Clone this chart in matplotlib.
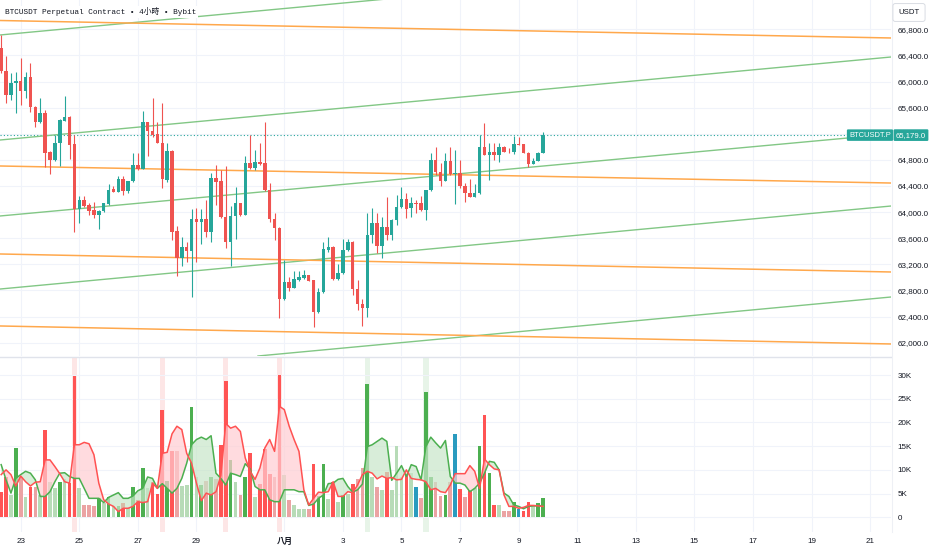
import numpy as np
import matplotlib
matplotlib.use('Agg')
import matplotlib.pyplot as plt
import matplotlib.transforms as mtransforms

# ---------------- data ----------------
# 4h candles, first bar = Jul 22 08:00 (bar -4), bar 0 = Jul 23 00:00
first_bar = -4
opens = [66508,66161,65793,65982,66008,65860,66074,65604,65385,65522,
         64920,64797,65053,65400,65461,65037,64046,64184,64108,64031,
         63955,64016,64123,64348,64312,64506,64322,64470,64726,64660,
         65375,65247,65191,65063,64491,64935,63710,63291,63459,63408,
         63894,63853,63894,63700,64527,64481,63929,63546,63940,64134,
         63955,64746,64670,64767,64746,64338,63890,63761,62668,62933,
         62841,62959,62995,63035,62959,62474,62770,63419,63459,62974,
         63061,63419,63546,62816,62586,62525,63648,63837,63485,63776,
         63648,63878,64082,64195,64057,64134,64134,64032,64338,64798,
         64619,64481,64788,64583,64604,64400,64287,64236,64287,65002,
         64875,64915,64875,64992,64926,64915,65043,65043,64910,64737,
         64788,64910]
closes = [66166,65793,65982,66008,65860,66074,65604,65385,65522,64910,
          64797,65053,65410,65451,65027,64046,64184,64093,64021,63955,
          64021,64133,64338,64312,64506,64322,64470,64726,64654,65375,
          65247,65181,65063,64501,64935,63700,63291,63459,63408,63894,
          63853,63894,63700,64527,64466,63929,63546,63940,64134,63955,
          64746,64670,64767,64736,64338,63890,63761,62668,62933,62841,
          62974,63000,63035,62949,62474,62770,63429,63459,62974,63071,
          63419,63546,62816,62586,62525,63648,63837,63485,63776,63648,
          63878,64082,64195,64042,64134,64119,64032,64338,64798,64619,
          64481,64788,64583,64604,64400,64287,64236,64287,65002,64875,
          64915,64875,64992,64926,64915,65038,65028,64910,64737,64788,
          64910,65179]
highs = [66712,66391,66125,66151,66355,66151,66278,65620,65742,65563,
         64930,65180,65420,65778,65471,65180,64251,64251,64133,64159,
         64030,64140,64424,64404,64552,64557,64470,64910,64900,65553,
         65385,65742,65385,65676,65053,64945,63786,63623,63546,64047,
         64057,64047,64185,64593,64721,64644,64706,64093,64379,64140,
         64859,65181,64951,65063,65375,64440,63980,63770,63265,63010,
         63102,63102,63112,63040,62965,62831,63546,63613,63485,63204,
         63582,63582,63556,62959,62663,63980,64057,63990,63929,64225,
         63890,64261,64379,64290,64226,64185,64251,64338,64910,64992,
         64747,64910,64992,64951,64798,64451,64507,64430,65181,65360,
         65053,65053,65053,65012,64980,65166,65155,65050,64925,64824,
         64925,65232]
lows = [66135,65665,65717,65512,65640,65742,65538,65308,65359,64695,
        64583,64790,64705,65395,64807,63699,63837,64082,63955,63904,
        63745,64006,64108,64302,64305,64261,64297,64460,64644,64655,
        64864,65155,65053,64363,64466,63572,63025,63174,63240,62704,
        63240,63511,63623,63546,64108,63904,63444,63174,63582,63940,
        63950,64660,64644,64726,64318,63853,63572,62382,62650,62795,
        62830,62950,62980,62945,62244,62448,62760,63393,62960,62960,
        63050,63400,62729,62499,62259,62397,63521,63367,63291,63572,
        63572,63801,64057,63904,63930,63981,64020,63879,64330,64568,
        64400,64470,64570,64124,64364,64160,64225,64225,64280,64870,
        64492,64798,64772,64915,64910,64890,65020,64900,64696,64730,
        64780,64900]

# volume in thousands, with bar colour class
volumes = [5.3,8.6,4.7,14.6,8.6,4.2,6.3,6.3,4.6,18.5,
           7.5,6.1,7.5,8.0,7.2,29.8,6.1,2.6,2.6,2.4,
           4.0,3.0,4.2,2.3,2.4,3.1,1.9,6.3,3.7,10.4,
           6.1,7.5,4.9,22.6,7.7,13.9,13.9,6.5,6.8,23.2,
           8.6,6.8,7.7,8.5,8.1,15.2,28.7,12.1,7.5,4.6,
           8.5,13.5,4.2,7.1,14.4,9.1,8.4,30.1,9.0,3.7,
           2.6,1.7,1.8,1.7,11.2,4.4,11.3,3.8,7.5,3.3,
           4.7,5.0,7.0,8.1,10.4,28.2,8.6,6.3,5.8,9.6,
           5.8,15.0,8.6,9.0,9.3,6.4,4.1,26.4,8.6,7.5,
           4.4,4.7,7.5,17.6,6.0,4.2,5.8,6.1,15.0,21.6,
           9.3,2.6,2.5,1.4,1.4,3.2,1.7,1.3,3.3,2.3,
           3.0,4.0]
vol_class = list("RRgGrgRrgR" "ggGgRRgrrr" "GgGgGRgGRG" "gRRRGRrggG"
                 "gGrGrRRGgr" "GRgRRRrRgr" "gggrRGGgRg" "GgRrrGgrgR"
                 "gggRgBrGGr" "rGrBRrRgGR" "GRgrrGBRRg" "GG")
sell_line = [9.0,10.0,9.0,6.6,8.7,7.5,6.6,7.4,7.5,12.1,
             12.1,10.7,9.2,7.5,7.2,15.3,15.3,15.8,15.5,13.2,
             7.2,3.7,2.8,2.3,1.2,1.9,1.9,2.3,3.3,3.1,
             3.3,7.2,6.1,13.5,13.7,17.6,19.2,18.5,13.5,11.4,
             7.2,3.5,5.1,4.7,5.4,8.8,19.8,18.8,19.2,18.1,
             12.5,9.7,8.0,10.4,14.6,16.4,13.9,23.4,22.7,19.2,
             16.4,13.9,5.8,2.6,4.0,5.3,5.2,5.4,7.5,4.4,
             4.4,5.4,5.2,6.8,9.0,9.7,9.3,8.1,8.7,8.2,
             8.4,7.9,8.0,10.0,8.2,8.0,7.9,7.5,5.8,6.1,
             5.4,5.2,6.8,9.2,9.2,9.2,10.9,9.7,6.1,12.3,
             11.1,10.2,10.0,4.7,2.3,2.3,1.9,2.1,2.5,2.5,
             2.4,2.3]
buy_line = [11.1,7.9,5.1,8.2,9.0,9.7,9.3,7.9,4.4,4.4,
            5.4,7.5,9.3,9.4,8.6,8.2,8.2,6.1,4.0,4.0,
            4.0,3.1,4.2,4.7,5.2,4.0,4.0,4.5,5.6,6.1,
            8.5,8.2,6.1,7.1,6.1,5.1,6.1,8.2,11.4,15.3,
            16.4,16.9,16.4,17.2,9.3,8.2,6.8,9.3,9.0,8.6,
            11.3,10.2,6.5,5.8,5.8,3.7,3.3,3.3,5.8,5.8,
            5.8,5.4,5.4,2.5,2.8,4.0,4.7,7.1,7.2,8.0,
            8.2,6.5,5.3,5.8,7.0,14.9,15.3,16.0,16.7,16.0,
            7.8,9.3,10.9,8.6,11.1,10.7,7.9,14.9,16.9,15.7,
            14.6,16.2,8.6,7.2,7.2,6.8,5.4,6.1,7.2,9.3,
            11.8,11.6,10.0,5.1,4.4,2.6,2.3,1.8,2.3,2.4,
            2.4,2.5]
red_spike_bars = [11, 29, 42, 53]
green_spike_bars = [71, 83]

# trend lines: (bar_start, price_start, bar_end, price_end)
green_lines = [(-4.24, 66713, 178.3, 67984),
               (-4.24, 65104, 178.3, 66376),
               (-4.24, 63940, 178.3, 65196),
               (-4.24, 62821, 178.3, 64093),
               (48.6, 61795, 178.3, 62699)]
orange_lines = [(-4.24, 66935, 178.3, 66667),
                (-4.24, 64706, 178.3, 64445),
                (-4.24, 63358, 178.3, 63082),
                (-4.24, 62255, 178.3, 61979)]

tick_bars = [0, 12, 24, 36, 54, 66, 78, 90, 102, 114, 126, 138, 150, 162, 174]
tick_labels = ['23', '25', '27', '29', '八月', '3', '5', '7', '9', '11',
               '13', '15', '17', '19', '21']
price_ticks = list(range(62000, 66801, 400))
hidden_price_tick = 65200   # covered by the last-price label in the reference
vol_ticks = [0, 5, 10, 15, 20, 25, 30]
title = "BTCUSDT Perpetual Contract • 4小時 • Bybit"
symbol_label = "BTCUSDT.P"

# ---------------- style ----------------
UP = '#26a69a'
DOWN = '#ef5350'
VOLC = {'R': '#ff5454', 'r': '#eba3a3', 'G': '#4caf50', 'g': '#b7dbb7', 'B': '#2a9bbf'}
GRID = '#f0f3fa'
TXT = '#131722'
FONT = ['Liberation Sans', 'Noto Sans CJK TC']

W, H = 932, 550
fig = plt.figure(figsize=(W / 100, H / 100), dpi=100)
fig.patch.set_facecolor('white')


def fx(px):
    return px / W


def fy(py):
    return 1 - py / H


ax1 = fig.add_axes([0, fy(356), fx(891), fy(0) - fy(356)])
ax2 = fig.add_axes([0, fy(532), fx(891), fy(357) - fy(532)], sharex=ax1)

x = np.arange(len(opens)) + first_bar
o = np.array(opens, float)
c = np.array(closes, float)
h = np.array(highs, float)
l = np.array(lows, float)
up = c >= o
cols = np.where(up, UP, DOWN)

# ---- price pane ----
ax1.set_xlim(-4.24, 178.27)
ax1.set_ylim(61795, 67249)
ax1.set_axisbelow(True)
ax1.grid(True, color=GRID, lw=0.8)
ax1.set_xticks(tick_bars)
ax1.set_yticks(price_ticks)

for (x0, p0, x1, p1) in green_lines:
    ax1.plot([x0, x1], [p0, p1], color='#82c785', lw=1.0, zorder=2)
for (x0, p0, x1, p1) in orange_lines:
    ax1.plot([x0, x1], [p0, p1], color='#ffa84c', lw=1.1, zorder=2)

ax1.vlines(x, l, h, colors=cols, lw=0.8, zorder=3)
body_bottom = np.minimum(o, c)
body_h = np.maximum(np.abs(c - o), 12)
ax1.bar(x, body_h, bottom=body_bottom, width=0.72, color=cols, zorder=4, linewidth=0)

ax1.axhline(closes[-1], color=UP, ls=(0, (1, 2)), lw=0.8, zorder=1)

ax1.yaxis.tick_right()
ax1.tick_params(axis='y', length=0, pad=4.5, labelsize=5.8, labelcolor=TXT)
ax1.tick_params(axis='x', length=0, labelbottom=False)
ax1.set_yticklabels(['' if v == hidden_price_tick else f"{v:,.1f}" for v in price_ticks], family=FONT)
for s in ax1.spines.values():
    s.set_visible(False)

# ---- volume pane ----
ax2.set_ylim(-3.1, 33.8)
ax2.set_axisbelow(True)
ax2.grid(True, color=GRID, lw=0.8)
for b in red_spike_bars:
    ax2.axvspan(b - 0.55, b + 0.55, color='#fde6e6', lw=0, zorder=0.5)
for b in green_spike_bars:
    ax2.axvspan(b - 0.55, b + 0.55, color='#e7f4e8', lw=0, zorder=0.5)

ax2.bar(x, volumes, width=0.75, color=[VOLC[k] for k in vol_class], zorder=2, linewidth=0)

s_line = np.array(sell_line)
b_line = np.array(buy_line)
ax2.fill_between(x, s_line, b_line, where=s_line >= b_line, interpolate=True,
                 color='#ffcdd2', alpha=0.7, lw=0, zorder=2.5)
ax2.fill_between(x, s_line, b_line, where=s_line < b_line, interpolate=True,
                 color='#c8e6c9', alpha=0.7, lw=0, zorder=2.5)
ax2.plot(x, b_line, color='#4caf50', lw=1.1, zorder=3)
ax2.plot(x, s_line, color='#ff5252', lw=1.1, zorder=3.1)

ax2.yaxis.tick_right()
ax2.set_yticks(vol_ticks)
ax2.set_yticklabels(['0'] + [f"{v}K" for v in vol_ticks[1:]], family=FONT)
ax2.tick_params(axis='y', length=0, pad=4.5, labelsize=5.8, labelcolor=TXT)
ax2.set_xticks(tick_bars)
ax2.set_xticklabels(tick_labels, family=FONT)
ax2.tick_params(axis='x', length=0, pad=4.0, labelsize=5.8, labelcolor=TXT)
for t in ax2.get_xticklabels():
    if t.get_text() == '八月':
        t.set_fontweight('bold')
for s in ax2.spines.values():
    s.set_visible(False)

# separators
fig.add_artist(plt.Line2D([0, fx(891)], [fy(356.5), fy(356.5)], color='#e0e3eb', lw=1.0))
fig.add_artist(plt.Line2D([fx(891.5), fx(891.5)], [fy(532), 1], color='#eef0f5', lw=0.8))

# title
fig.text(fx(5), fy(12), title, family=['Liberation Mono', 'Noto Sans CJK TC'], fontsize=5.6,
         color=TXT, va='center', ha='left',
         bbox=dict(boxstyle='square,pad=0.2', fc='white', ec='none'))

# USDT box
fig.text(fx(909), fy(12.5), 'USDT', family=FONT, fontsize=5.6, color=TXT, ha='center', va='center',
         bbox=dict(boxstyle='round,pad=0.7,rounding_size=0.3', fc='white', ec='#d9dce3', lw=0.7))

# last price labels
tr = mtransforms.blended_transform_factory(fig.transFigure, ax1.transData)
fig.text(fx(870), closes[-1], symbol_label, transform=tr, family=FONT, fontsize=5.4, color='white',
         ha='center', va='center',
         bbox=dict(boxstyle='round,pad=0.3,rounding_size=0.15', fc=UP, ec='none'))
fig.text(fx(911), closes[-1], f"{closes[-1]:,.1f}", transform=tr, family=FONT, fontsize=5.6,
         color='white', ha='center', va='center',
         bbox=dict(boxstyle='round,pad=0.3,rounding_size=0.15', fc=UP, ec='none'))

fig.savefig('out.png', dpi=100, facecolor='white')
